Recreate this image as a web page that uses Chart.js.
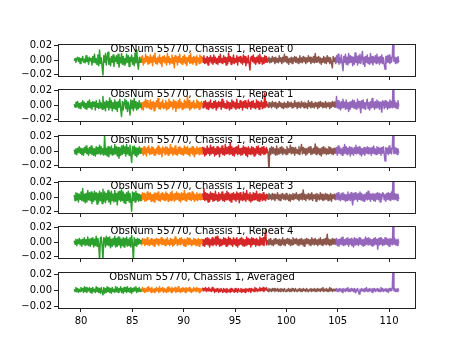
<!DOCTYPE html>
<html>
<head>
<meta charset="utf-8">
<script src="https://cdn.jsdelivr.net/npm/chart.js@4.4.0/dist/chart.umd.min.js"></script>
<style>
html, body { margin: 0; padding: 0; background: #fff; }
#fig { position: relative; width: 461px; height: 346px; }
.panel { position: absolute; left: 0; }
</style>
</head>
<body>
<div id="fig"></div>
<script>
// frequency edges of the five coloured segments
const segmentEdges = [79.34, 85.84, 91.81, 98.14, 104.73, 110.95];
const xTicks = [80, 85, 90, 95, 100, 105, 110];
const yTicks = [-0.02, 0, 0.02];
const panelTitles = [
    'ObsNum 55770, Chassis 1, Repeat 0',
    'ObsNum 55770, Chassis 1, Repeat 1',
    'ObsNum 55770, Chassis 1, Repeat 2',
    'ObsNum 55770, Chassis 1, Repeat 3',
    'ObsNum 55770, Chassis 1, Repeat 4',
    'ObsNum 55770, Chassis 1, Averaged'
];
const segmentColors = ['#2ca02c', '#ff7f0e', '#d62728', '#8c564b', '#9467bd'];

// values, units of 1e-3, one list per segment
const repeat0 = [
    [-1,2,-3,1,4,-2,3,-5,2,-1, 5,-3,1,-4,6,-2,3,-6,4,-1, 2,-7,5,-3,8,-4,2,-6,7,-8, 14,-5,3,-9,-21,6,-3,9,-7,4,
     11,-6,2,-8,5,-3,7,-9,4,-2, 6,-5,8,-10,3,-4,9,-6,5,-7, 2,-5,8,-3,6,-9,4,-2,7,-6, 3,-8,10,-4,14,-5,-13,4,-3,2],
    [5,-3,6,-7,2,-4,8,-2,5,-6, 3,-5,7,-3,4,-8,6,-2,10,-5, 2,-6,4,-3,7,-5,3,-9,5,-2, 6,-4,3,-7,9,-3,5,-6,2,-4,
     7,-5,3,-11,6,-2,4,-7,5,-3, 8,-4,2,-6,5,-3,7,-5,4,-8, 3,-2,6,-5,9,-4,3,-6,5,-3, 4,-7,6,-2,3,-5,7,-4,5,-3],
    [4,-3,6,-5,2,-4,5,-7,3,-2, 6,-4,3,-6,7,-3,4,-5,2,-6, 5,-3,8,-4,2,-5,6,-3,4,-7, 3,-5,10,-2,5,-6,3,-4,7,-5,
     2,-3,6,-7,4,-2,5,-4,3,-6, 7,-3,5,-8,2,-4,6,-5,-14,3, 5,-2,7,-4,3,-6,4,-3,6,-5, 8,-2,4,-6,3,-5,6,-3,5,-4],
    [3,-2,4,-4,2,-3,5,-2,3,-5, 4,-3,2,-4,6,-2,3,-5,4,-3, 8,-2,5,-4,3,-6,2,-3,4,-5, 3,-2,5,-3,4,-4,2,-5,6,-3,
     3,-4,5,-2,4,-5,3,-3,6,-2, 4,-5,3,-3,5,-4,9,-3,4,-2, 5,-4,3,-6,2,-3,5,-4,3,-5, 6,-2,4,-5,3,-4,-11,5,-2,3],
    [4,-5,6,-3,8,-6,3,-4,7,-5, -15,5,-3,8,-6,4,-7,9,-4,6, -3,5,-8,4,-6,10,-3,5,-7,6, -4,8,-5,3,12,-6,4,-9,5,-3,
     7,-5,3,-6,9,-4,5,-7,4,-3, 6,-5,8,-3,4,-6,5,-4,7,-5, 3,-6,-13,5,-4,6,-3,7,-5,4, -3,5,35,-2,4,-5,3,-4,5,-3]
];
const repeat1 = [
    [1,-3,4,-2,5,-4,2,-5,3,-1, 6,-3,4,-5,2,-6,5,-3,7,-4, 3,-6,5,-2,4,-7,6,-3,2,-5, 7,-4,3,-6,12,-5,4,-8,6,-3,
     5,-7,10,-4,6,-8,3,-5,7,-6, 4,-9,5,-3,8,-6,-16,5,-7,4, 8,-5,6,-9,4,-3,-14,7,-5,6, -8,9,-4,5,-7,3,-5,6,-3,2],
    [4,-6,3,-7,5,-2,8,-4,6,-3, 2,-5,7,-6,4,-3,5,-8,3,-4, 6,-2,9,-5,3,-6,4,-3,7,-5, 2,-4,6,-7,3,-5,8,-3,5,-2,
     4,-6,7,-3,5,-9,3,-4,6,-5, 8,-3,4,-6,2,-5,7,-4,5,-3, 12,-4,6,-7,3,-5,4,-3,6,-5, 2,-4,7,-3,5,-6,3,-4,5,-2],
    [3,-4,5,-2,6,-5,3,-6,4,-3, 7,-4,2,-5,5,-3,6,-7,3,-4, 5,-2,4,-6,8,-3,5,-4,2,-5, 6,-3,4,-7,3,-5,7,-2,5,-4,
     3,-6,8,-4,2,-5,6,-3,4,-7, 5,-3,6,-4,3,-5,7,-2,4,-6, 5,-3,6,-4,2,-5,7,-3,5,-6, 4,-2,6,-5,3,-4,17,-3,5,-2],
    [2,-3,4,-2,3,-4,5,-2,3,-3, 4,-5,2,-3,5,-2,3,-4,2,-5, 4,-3,2,-4,5,-3,3,-2,4,-4, 2,-3,6,-2,3,-5,4,-3,2,-4,
     5,-2,3,-4,4,-3,2,-5,6,-2, 3,-4,5,-3,2,-4,4,-2,3,-5, 4,-3,5,-2,3,-4,2,-3,5,-4, 3,-2,4,-5,3,-3,5,-2,4,-3],
    [5,-3,12,-4,6,-5,3,-7,5,-4, 8,-3,4,-6,7,-5,3,-9,4,-6, 5,-3,7,-4,6,-5,3,-6,8,-4, 5,-3,-11,6,-4,7,-5,3,-6,4,
     8,-5,3,-7,5,-4,9,-3,4,-6, 5,-4,7,-3,5,-6,4,-3,-10,6, 4,-5,6,-3,5,-6,4,-4,7,-3, 5,-4,34,-3,6,-4,3,-5,6,-2]
];
const repeat2 = [
    [2,-4,3,-5,4,-2,6,-3,4,-5, 3,-6,5,-2,7,-4,3,-6,5,-3, 7,-5,4,-6,3,-7,6,-4,5,-3, 8,-5,6,-4,3,-6,22,-5,4,-7,
     6,-8,5,-4,7,-6,3,-5,9,-4, 6,-7,5,-10,4,-6,7,-5,8,-3, 6,-7,9,-4,5,-6,8,-5,-16,6, -4,7,-6,5,-8,4,-5,6,-3,4],
    [5,-3,4,-6,6,-4,3,-7,5,-2, 7,-5,3,-4,6,-3,5,-6,2,-5, 4,-3,7,-5,5,-4,3,-8,6,-2, 4,-5,6,-3,5,-6,3,-4,9,-3,
     5,-6,3,-4,7,-5,2,-6,5,-3, 6,-4,4,-5,3,-6,7,-3,5,-4, 6,-5,3,-7,4,-3,6,-5,5,-8, 3,-4,6,-3,4,-5,5,-3,4,-5],
    [6,-4,5,-7,3,-5,7,-3,4,-6, 8,-4,5,-3,6,-7,3,-5,6,-4, 5,-8,4,-3,7,-5,3,-6,9,-4, 5,-3,6,-5,12,-4,6,-6,4,-7,
     5,-3,6,-5,8,-4,3,-6,4,-5, 7,-3,5,-6,4,-8,6,-4,3,-5, 6,-4,5,-7,3,-5,6,-3,7,-5, 4,-6,5,-3,6,-5,3,-4,5,-3],
    [3,-2,-30,4,-5,6,-3,5,-4,3, -6,7,-5,3,-4,5,-3,6,-5,4, -3,2,-5,6,-4,3,-2,8,-4,5, -3,4,-6,5,-3,2,-4,6,-5,3,
     9,-4,5,-3,4,-6,3,-4,5,-2, 6,-5,3,-4,4,-3,10,-5,6,-3, 4,-5,3,-7,5,-4,6,-3,4,-5, 3,-4,6,-3,5,-4,3,-5,4,-3],
    [4,-3,5,-6,7,-3,5,-4,3,-6, 5,-4,9,-3,6,-5,4,-3,6,-7, 5,-4,3,-6,5,-3,8,-4,5,-3, 6,-5,4,-7,3,-4,5,-6,4,-3,
     6,-4,5,-3,4,-6,5,-3,7,-4, 3,-5,6,-4,5,-3,4,-6,5,-3, 6,-4,-14,5,-3,4,-5,7,-3,4, -4,5,33,-4,5,-3,4,-5,3,-3]
];
const repeat3 = [
    [3,-5,6,-4,5,-7,4,-3,7,-5, 12,-6,4,-8,5,-7,9,-4,6,-5, 7,-9,5,-6,8,-4,6,-10,5,-7, 8,-5,6,-9,11,-6,7,-8,5,-4,
     9,-7,6,-10,8,-5,4,-7,9,-6, 5,-11,7,-4,8,-6,10,-5,7,-8, 4,-9,6,-5,8,-7,5,-6,-20,7, -5,6,-7,8,-4,5,-6,4,-5,3],
    [4,-5,6,-3,5,-6,3,-5,7,-4, 5,-3,6,-6,3,-5,4,-7,6,-3, 5,-4,7,-5,2,-6,5,-3,6,-4, 4,-5,7,-3,5,-6,3,-4,6,-5,
     8,-3,4,-6,5,-4,7,-3,5,-5, 3,-7,6,-4,5,-3,9,-5,4,-6, 5,-3,6,-4,4,-5,7,-3,5,-6, 3,-4,6,-5,4,-3,5,-4,3,-4],
    [5,-3,12,-5,6,-4,5,-7,4,-6, 7,-3,5,-6,4,-5,8,-4,3,-6, 6,-5,4,-3,7,-5,3,-6,5,-4, 8,-3,6,-5,4,-7,5,-3,6,-4,
     4,-6,7,-3,5,-8,6,-4,3,-5, 7,-4,5,-6,9,-3,4,-5,6,-7, 3,-5,6,-4,5,-3,8,-5,4,-6, 5,-3,4,-5,6,-4,3,-5,4,-3],
    [4,-3,5,-2,3,-4,5,-3,4,-5, 3,-2,6,-4,3,-5,4,-2,5,-3, 3,-4,5,-3,2,-5,4,-6,3,-3, 5,-4,4,-2,6,-3,3,-5,4,-3,
     5,-4,10,-3,4,-5,3,-2,5,-4, 4,-3,6,-5,3,-2,4,-6,5,-3, 3,-4,6,-3,4,-5,3,-4,5,-3, 4,-5,3,-4,5,-6,3,-2,4,-3],
    [3,-4,5,-3,6,-4,3,-5,5,-3, 6,-4,4,-6,3,-5,7,-3,4,-5, 6,-3,-11,5,-4,6,-3,4,-6,5, -3,7,-4,5,-5,3,-6,4,-3,6,
     -4,8,-3,5,-6,4,-3,5,-5,4, -6,5,-3,6,-4,5,-7,4,-3,6, 5,-4,3,-6,5,-3,6,-4,5,-5, 7,-3,34,-4,5,-3,4,-5,4,-3]
];
const repeat4 = [
    [2,-3,4,-5,3,-2,5,-4,3,-6, 4,-3,6,-5,3,-4,7,-5,4,-6, 5,-3,6,-7,4,-5,8,-6,5,-4, -26,6,7,-5,-25,6,5,-7,8,-4,
     6,-5,7,-8,4,-6,5,-4,8,-7, 5,-6,7,-4,6,-8,4,-5,6,-7, 5,-4,7,-6,4,-5,6,-7,9,-3, -26,6,-5,4,-6,5,-3,4,-2,3],
    [3,-4,5,-2,4,-5,3,-3,6,-4, 2,-5,4,-3,5,-4,3,-6,4,-2, 5,-3,4,-5,3,-2,6,-4,5,-3, 3,-5,4,-4,6,-3,2,-5,5,-3,
     4,-6,3,-4,7,-2,4,-5,3,-3, 5,-4,6,-2,3,-5,4,-6,3,-3, 6,-4,5,-3,4,-5,2,-4,5,-3, 4,-5,3,-4,5,-6,3,-3,4,-2],
    [4,-5,3,-6,5,-3,6,-4,5,-7, 3,-4,6,-5,4,-3,7,-5,8,-3, 5,-6,4,-5,3,-4,6,-3,5,-6, 4,-5,7,-3,5,-4,3,-6,6,-3,
     4,-5,6,-7,3,-4,5,-3,6,-5, 4,-6,3,-5,7,-4,5,-3,4,-7, 6,-4,5,-3,4,-6,5,-4,3,-5, 7,-3,5,-4,6,-5,4,18,-4,3],
    [3,-4,4,-3,5,-4,2,-5,4,-3, 5,-2,3,-4,4,-5,3,-3,6,-4, 3,-5,4,-2,5,-3,4,-5,3,-4, 6,-3,4,-2,5,-4,3,-5,4,-3,
     5,-4,3,-6,4,-3,5,-2,4,-4, 3,-5,6,-3,4,-4,5,-3,3,-5, 4,-3,6,-4,3,-5,4,-3,5,-4, 11,-3,4,-5,3,-4,5,-3,4,-3],
    [4,-3,5,-5,3,-6,4,-3,6,-4, 7,-5,3,-4,5,-3,6,-6,4,-3, 5,-5,3,-7,6,-4,5,-3,4,-5, 6,-3,5,-4,3,-6,4,-5,7,-3,
     5,-4,6,-3,4,-5,3,-6,5,-4, 6,-3,4,-10,5,-4,6,-3,5,-5, 3,-4,6,-3,5,-4,4,-6,5,-3, 4,-4,33,-3,5,-4,3,-5,4,-2]
];
const averaged = [
    [1,-2,3,-2,2,-3,1,-2,3,-1, 2,-3,4,-2,3,-3,2,-1,3,-3, 2,-4,3,-2,1,-3,4,-2,3,-3, 2,-4,3,-2,-6,3,-4,2,-3,4,
     -2,3,-3,2,-4,3,-2,1,-3,4, -2,3,-3,2,-1,4,-3,2,-4,3, -2,3,-3,4,-2,2,-3,3,-4,2, -2,3,-1,4,-3,2,-2,3,-2,1],
    [2,-1,3,-2,2,-3,1,-2,3,-2, 4,-1,2,-3,3,-2,1,-3,2,-2, 3,-1,2,-3,4,-2,2,-1,3,-3, 2,-2,1,-3,3,-2,4,-1,2,-3,
     3,-2,2,-1,3,-3,2,-2,4,-2, 1,-3,2,-2,3,-1,2,-3,3,-2, 2,-1,3,-2,2,-3,1,-2,3,-1, 2,-2,3,-1,2,-3,2,-2,1,-1],
    [3,-1,2,0,3,-2,2,-1,3,-1, 1,-2,3,-1,2,-3,1,-2,2,-1, -3,1,-2,2,-1,-3,2,-2,1,-3, 2,-1,-2,1,-3,2,-2,1,-1,-3,
     2,-2,1,-3,2,-1,-2,2,-3,1, -2,1,-3,2,-1,1,-2,2,-1,-3, 2,-1,1,-2,3,-1,2,-2,1,-1, 3,-1,2,-1,3,-2,2,0,3,-1],
    [1,-2,2,-1,1,-2,2,-1,2,-2, 1,-1,2,-2,1,-2,2,-1,1,-2, 2,-1,-2,1,-1,2,-2,1,-2,2, -1,1,-2,2,-1,-2,1,-1,2,-2,
     1,-2,2,-1,1,-2,2,-1,-2,1, -1,2,-2,1,-1,2,-2,1,-2,2, -1,1,-2,2,-1,3,-2,1,-1,2, -2,1,-2,3,-1,2,-2,1,-1,2],
    [1,-1,2,-2,1,-2,2,-1,1,-3, 2,-1,1,-2,2,-1,3,-2,1,-2, 2,-1,1,-2,2,-3,1,-1,2,-2, -5,1,-2,2,-1,1,-2,2,-1,3,
     -2,1,-2,2,-1,1,-3,2,-1,2, -2,1,-1,2,-2,1,-2,3,-1,2, -2,1,-1,2,-2,1,-3,2,-1,2, -1,2,35,-1,2,-2,1,-2,2,-1]
];
const panelData = [repeat0, repeat1, repeat2, repeat3, repeat4, averaged];

// layout in px (matplotlib default subplot box)
const plotTop = 41.5, panelStep = 45.68, plotH = 38, padTop = 6;

const frameAndTitle = {
    id: 'frameAndTitle',
    afterDraw(chart, args, opts) {
        const a = chart.chartArea;
        const ctx = chart.ctx;
        ctx.save();
        ctx.strokeStyle = '#222';
        ctx.lineWidth = 1;
        ctx.strokeRect(Math.round(a.left) + 0.5, Math.round(a.top) + 0.5,
            Math.round(a.right - a.left), Math.round(a.bottom - a.top));
        ctx.fillStyle = '#000';
        ctx.font = '10px "DejaVu Sans"';
        ctx.textAlign = 'center';
        ctx.textBaseline = 'alphabetic';
        ctx.fillText(opts.text, a.left + 0.4034 * (a.right - a.left), a.top + 7.8);
        ctx.restore();
    }
};

Chart.defaults.font.family = '"DejaVu Sans"';
Chart.defaults.font.size = 10;
Chart.defaults.color = '#000';

const fig = document.getElementById('fig');

panelData.forEach((segments, p) => {
    const last = p === panelData.length - 1;
    const xh = last ? 22 : 4;
    const div = document.createElement('div');
    div.className = 'panel';
    div.style.top = (Math.round(plotTop + p * panelStep) - padTop) + 'px';
    const canvas = document.createElement('canvas');
    canvas.width = 461;
    canvas.height = padTop + plotH + xh;
    div.appendChild(canvas);
    fig.appendChild(div);

    const datasets = segments.map((vals, k) => {
        const x0 = segmentEdges[k], x1 = segmentEdges[k + 1];
        return {
            data: vals.map((v, i) => ({ x: x0 + i * (x1 - x0) / (vals.length - 1), y: v / 1000 })),
            borderColor: segmentColors[k],
            borderWidth: 1.5,
            pointRadius: 0,
            tension: 0,
            borderJoinStyle: 'round',
            clip: 0
        };
    });

    new Chart(canvas, {
        type: 'line',
        data: { datasets: datasets },
        options: {
            responsive: false,
            animation: false,
            events: [],
            layout: { padding: { top: padTop, right: 46, left: 0, bottom: 0 } },
            plugins: {
                legend: { display: false },
                tooltip: { enabled: false },
                frameAndTitle: { text: panelTitles[p] }
            },
            scales: {
                x: {
                    type: 'linear',
                    min: 77.76,
                    max: 112.53,
                    afterBuildTicks: s => { s.ticks = xTicks.map(v => ({ value: v })); },
                    afterFit: s => { s.height = xh; },
                    ticks: { display: last, maxRotation: 0, padding: 3, color: '#000' },
                    grid: { drawOnChartArea: false, drawTicks: true, tickLength: 4, color: '#222' },
                    border: { display: false }
                },
                y: {
                    min: -0.0225,
                    max: 0.0225,
                    afterBuildTicks: s => { s.ticks = yTicks.map(v => ({ value: v })); },
                    afterFit: s => { s.width = 58; },
                    ticks: {
                        padding: 2,
                        color: '#000',
                        callback: v => (v < 0 ? '\u2212' : '') + Math.abs(v).toFixed(2)
                    },
                    grid: { drawOnChartArea: false, drawTicks: true, tickLength: 4, color: '#222' },
                    border: { display: false }
                }
            }
        },
        plugins: [frameAndTitle]
    });
});
</script>
</body>
</html>
